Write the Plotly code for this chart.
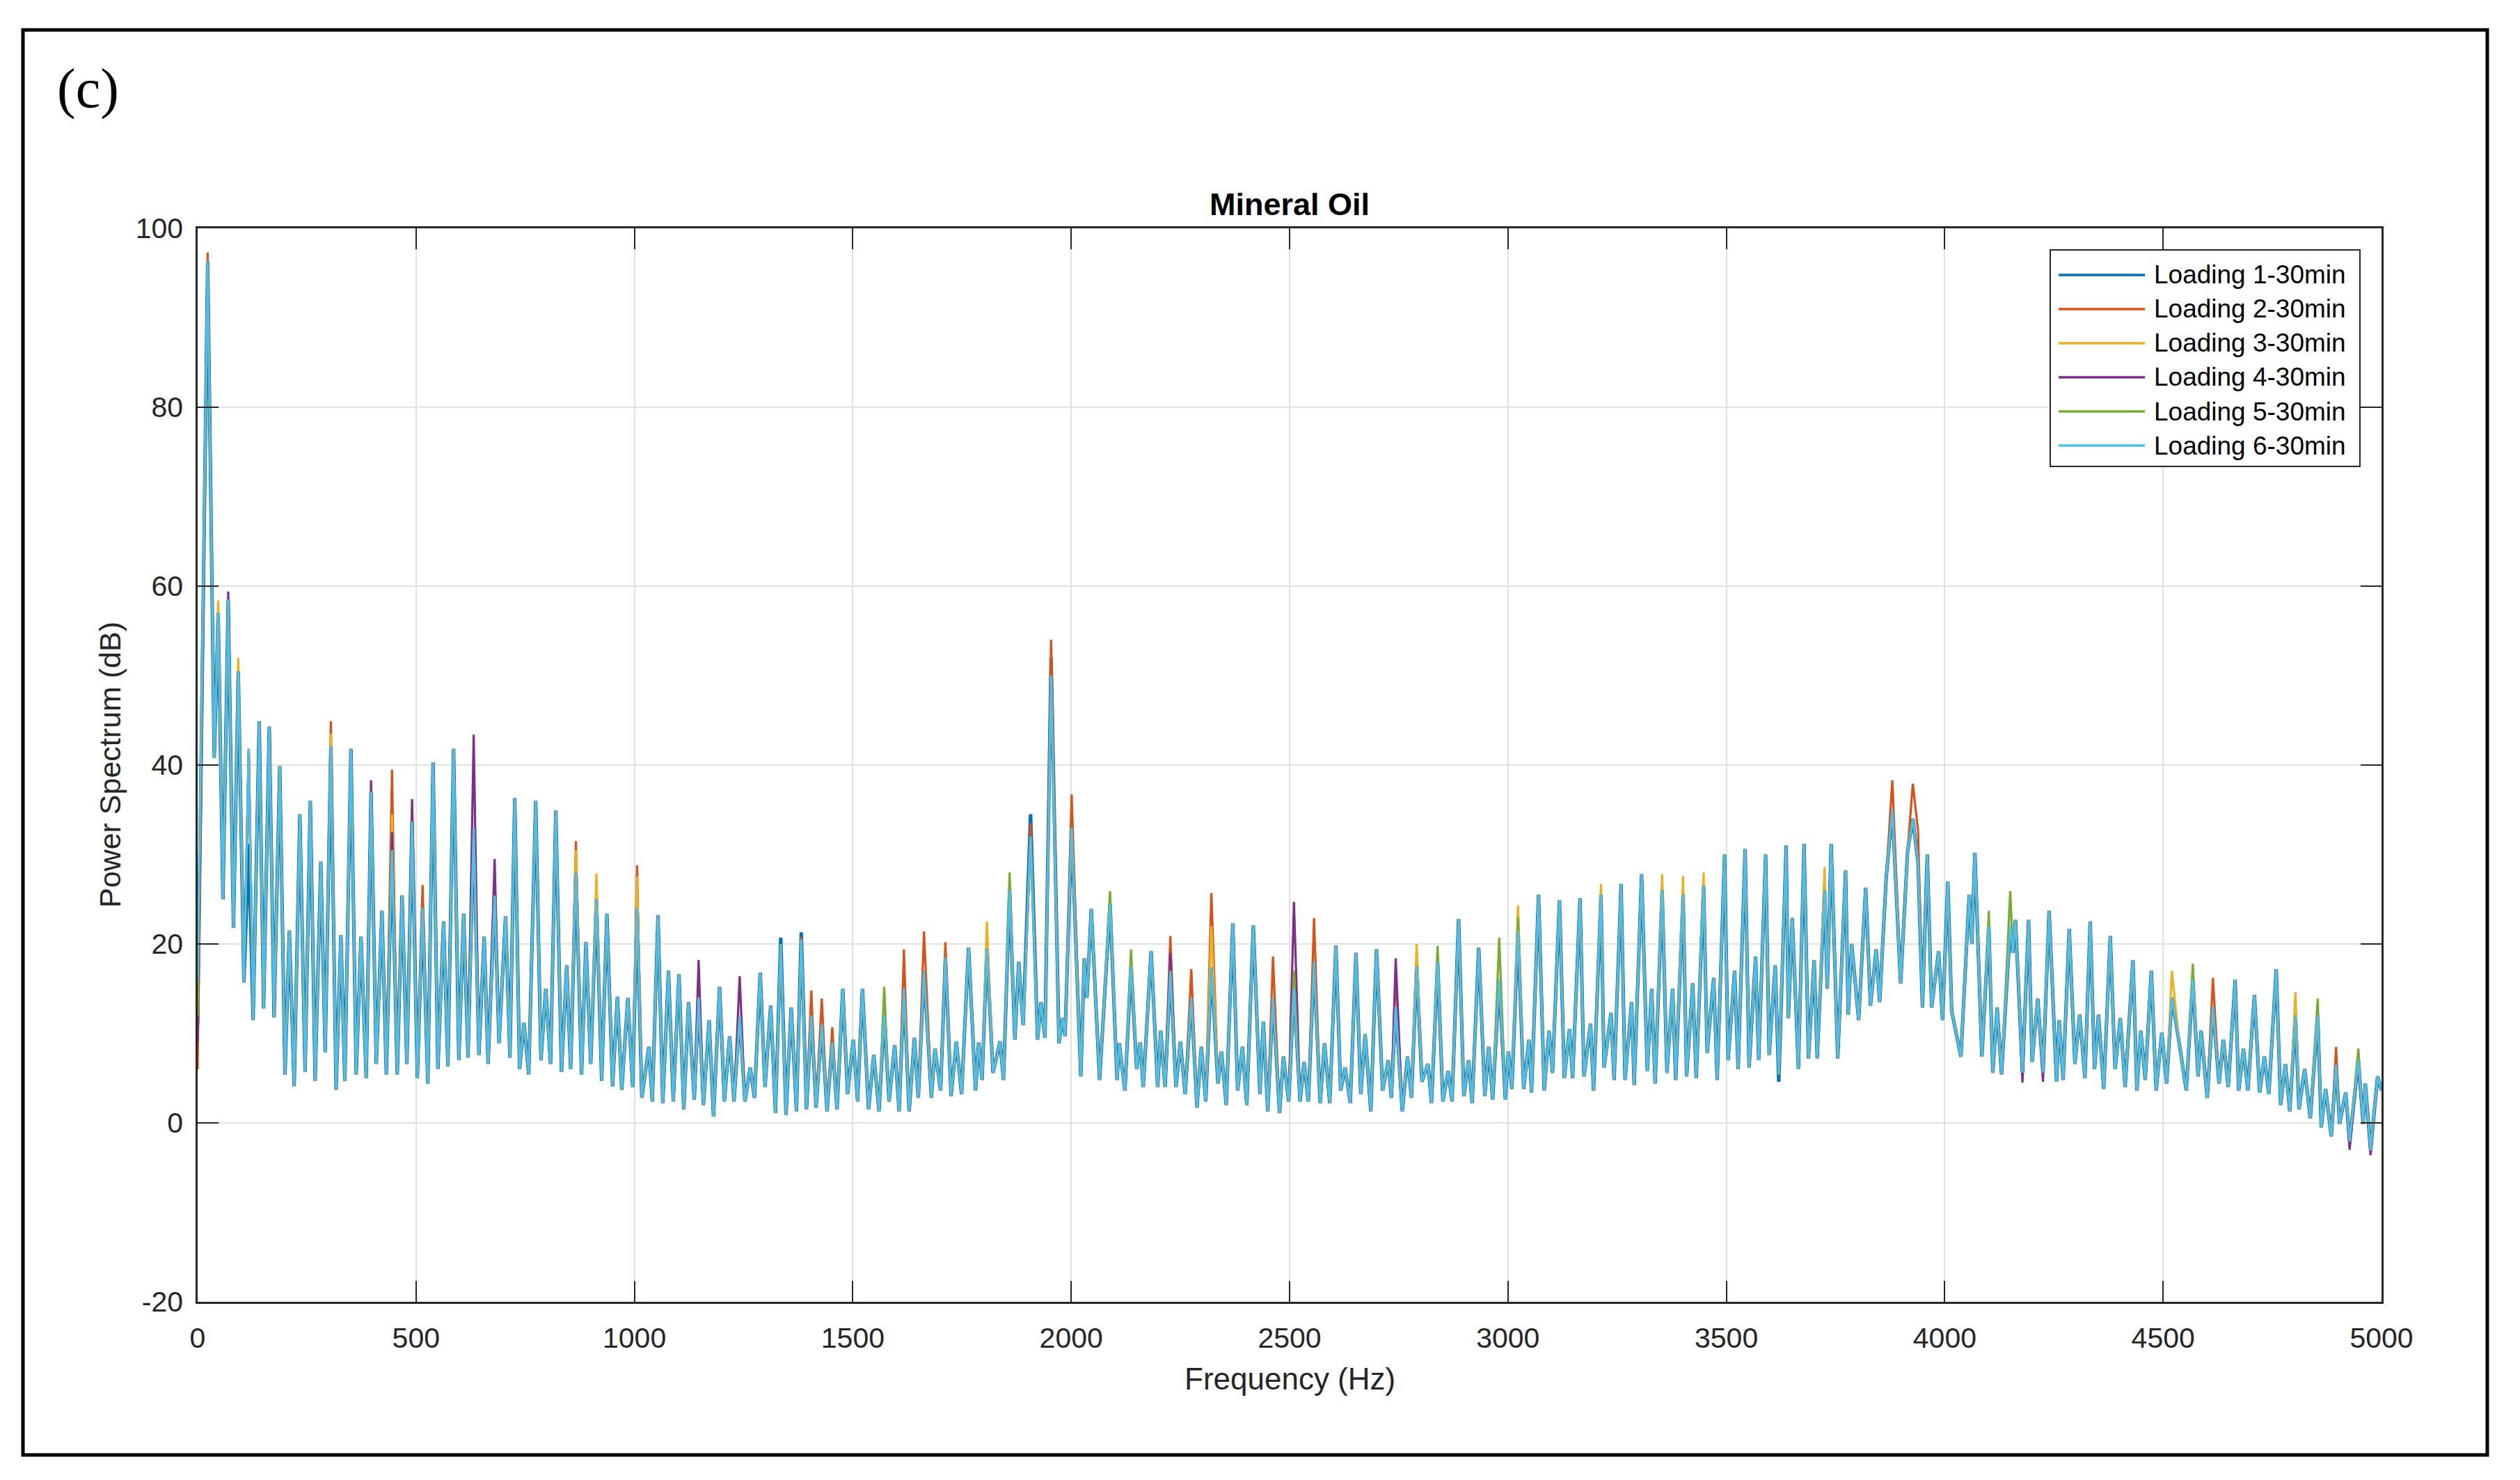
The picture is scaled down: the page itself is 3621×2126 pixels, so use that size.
import plotly.graph_objects as go

# ---------------- data ----------------
FREQ_HZ = [
    0, 23, 38, 47, 58, 70, 82, 93, 106, 117, 127, 141, 151, 164, 175, 188, 200, 210, 221, 234,
    246, 258, 269, 282, 292, 305, 317, 328, 337, 351, 363, 374, 386, 397, 409, 422, 432, 445, 457, 468,
    479, 491, 503, 515, 527, 539, 550, 563, 573, 586, 598, 609, 619, 632, 644, 656, 665, 680, 690, 705,
    715, 726, 737, 747, 758, 774, 786, 797, 808, 820, 833, 845, 854, 866, 879, 889, 900, 913, 925, 937,
    950, 961, 971, 985, 996, 1006, 1017, 1033, 1041, 1054, 1065, 1078, 1089, 1102, 1113, 1124, 1137, 1147, 1158, 1171,
    1181, 1195, 1206, 1218, 1228, 1241, 1253, 1265, 1275, 1288, 1299, 1312, 1323, 1335, 1347, 1359, 1371, 1382, 1394, 1405,
    1416, 1429, 1441, 1453, 1464, 1477, 1488, 1501, 1511, 1522, 1536, 1548, 1560, 1572, 1583, 1596, 1606, 1617, 1629, 1641,
    1650, 1663, 1680, 1688, 1701, 1712, 1725, 1737, 1749, 1765, 1781, 1788, 1796, 1807, 1821, 1837, 1845, 1859, 1871, 1880,
    1890, 1907, 1923, 1931, 1940, 1954, 1972, 1980, 1986, 2001, 2022, 2030, 2036, 2046, 2065, 2089, 2105, 2110, 2123, 2137,
    2150, 2158, 2165, 2183, 2198, 2205, 2215, 2227, 2240, 2250, 2261, 2275, 2288, 2298, 2308, 2321, 2336, 2344, 2355, 2370,
    2381, 2392, 2402, 2417, 2432, 2440, 2450, 2462, 2477, 2486, 2498, 2510, 2524, 2533, 2543, 2556, 2570, 2580, 2592, 2606,
    2617, 2627, 2639, 2652, 2663, 2673, 2686, 2699, 2713, 2726, 2733, 2743, 2758, 2770, 2779, 2791, 2803, 2817, 2825, 2839,
    2851, 2863, 2872, 2887, 2899, 2910, 2918, 2933, 2947, 2956, 2965, 2980, 2994, 3001, 3009, 3023, 3036, 3048, 3054, 3070,
    3083, 3094, 3102, 3118, 3129, 3141, 3148, 3165, 3174, 3189, 3196, 3213, 3220, 3236, 3243, 3259, 3268, 3283, 3289, 3306,
    3319, 3329, 3337, 3353, 3364, 3377, 3384, 3401, 3409, 3423, 3431, 3448, 3456, 3471, 3479, 3496, 3504, 3519, 3527, 3543,
    3552, 3567, 3574, 3590, 3598, 3612, 3620, 3637, 3642, 3651, 3665, 3678, 3688, 3701, 3708, 3725, 3731, 3740, 3755, 3773,
    3779, 3787, 3803, 3819, 3830, 3843, 3851, 3866, 3880, 3899, 3915, 3927, 3939, 3949, 3960, 3970, 3986, 3995, 4007, 4016,
    4037, 4056, 4062, 4069, 4085, 4101, 4110, 4120, 4130, 4150, 4156, 4162, 4178, 4192, 4200, 4213, 4225, 4239, 4256, 4262,
    4271, 4285, 4298, 4309, 4321, 4333, 4343, 4352, 4364, 4379, 4390, 4402, 4413, 4431, 4440, 4449, 4459, 4473, 4484, 4497,
    4508, 4520, 4537, 4553, 4568, 4580, 4587, 4601, 4614, 4628, 4638, 4649, 4665, 4673, 4684, 4694, 4709, 4721, 4732, 4742,
    4759, 4769, 4780, 4790, 4803, 4811, 4824, 4837, 4854, 4862, 4872, 4885, 4896, 4904, 4918, 4927, 4947, 4958, 4963, 4975,
    4991, 5000,
]

# common spectrum shared by the six loadings (dB)
BASE_DB = [
    16, 96.3, 40.8, 57, 25, 58.5, 21.8, 50.5, 15.7, 41.8, 11.5, 44.9, 12.8, 44.3, 11.8, 39.9, 5.4, 21.5, 4.1, 34.5,
    5.7, 36, 4.7, 29.2, 7.9, 42.1, 3.7, 21, 4.7, 41.8, 5.4, 20.8, 5, 37, 6.6, 23.7, 5.4, 30.5, 5.4, 25.4,
    6.6, 33.7, 5, 24, 4.4, 40.3, 6, 22.5, 6.3, 41.8, 7, 23.4, 7.3, 33, 7.6, 20.8, 6.6, 25.4, 8.9, 23.1,
    7.3, 36.3, 6, 11.2, 5.4, 36, 7, 15, 6.6, 34.9, 5.7, 17.6, 6, 28, 5.4, 20.2, 6.6, 25, 4.7, 23.4,
    4.1, 14.1, 3.7, 14, 4, 24, 2.8, 8.5, 2.4, 23.2, 2.2, 17, 2.4, 16.6, 1.5, 13.5, 2.6, 14, 2, 11.5,
    0.7, 15.2, 2.4, 9.7, 2.4, 12, 2.4, 6.2, 2.8, 16.8, 4, 13.1, 1.1, 20, 0.9, 12.9, 1.3, 20.5, 1.5, 12,
    1.7, 11, 1.3, 9, 1.5, 15, 3.2, 9.3, 2.4, 15, 1.5, 7.6, 1.3, 12, 2.4, 8.7, 1.3, 15, 1.3, 9.5,
    2.8, 17, 2.8, 8.3, 3.6, 18.5, 3, 9.1, 3.2, 19.6, 3.6, 9, 4.8, 19.5, 5.6, 9.1, 4.8, 26, 9.3, 18,
    10.9, 32, 9.3, 13.5, 9.5, 50, 8.9, 11.7, 9.7, 33, 5.2, 18.4, 14, 23.9, 4.8, 24.5, 4.8, 8.9, 3.6, 17.5,
    6, 9, 4, 19.2, 4, 10.3, 4, 17, 4, 9.1, 3.2, 14, 1.7, 8.5, 2.4, 17.4, 4.4, 8, 2, 22.3,
    3.6, 8.5, 2, 22.1, 3.2, 11.3, 1.3, 14, 1.1, 7.4, 2.4, 15, 2.4, 6.8, 2.4, 18, 2.2, 8.9, 2.2, 19.8,
    3.6, 6.2, 2.2, 19, 3.2, 9.9, 1.3, 19.4, 3.6, 7, 2.8, 13, 1.3, 7.4, 2.8, 17.5, 4.6, 6.6, 2.2, 18,
    2.4, 5.8, 2.4, 22.8, 3, 7, 2.2, 19.6, 3, 8.5, 2.6, 16, 2.6, 8, 3.8, 21.5, 3.8, 9.3, 3.4, 25.5,
    3.6, 10.3, 5.6, 24.9, 5, 10.5, 5, 25.1, 5.2, 11.1, 3.6, 25.5, 6.2, 12.3, 4.8, 26.7, 4.8, 13.5, 4.2, 27.8,
    5.8, 15, 4.4, 26, 5.6, 15, 4.8, 25.5, 5.2, 15.6, 5, 26.5, 7.8, 16.2, 4.8, 30, 7, 17, 6, 30.6,
    6.2, 18.6, 7, 30, 7.6, 17.6, 5.4, 31, 11.7, 22.9, 6, 31.2, 7.2, 18.2, 7.2, 26, 15, 31.2, 7.2, 28.2,
    12.1, 20, 11.5, 26.3, 13.1, 19.4, 13.5, 27.4, 35, 15.6, 30.4, 34, 29, 12.9, 30, 12.9, 19.2, 11.5, 27, 12.5,
    7.4, 25.5, 20, 30.2, 7.4, 22, 5.6, 12.9, 5.4, 22, 19, 22.7, 5.6, 22.7, 6.8, 13.9, 5.6, 23.7, 4.6, 11.5,
    4.8, 21.7, 6.6, 12.1, 5, 22.5, 6, 12.1, 3.8, 20.9, 6, 11.7, 4, 18.2, 3.6, 10.3, 4.8, 17, 3.6, 10.1,
    4.4, 14, 8.9, 3.6, 16, 5.2, 10.3, 2.8, 13, 4.4, 9.3, 4, 16, 3.6, 8.3, 3.6, 14.3, 3.4, 7.4, 3.2,
    17.2, 2, 6.6, 1.3, 12, 1.5, 6, 0.5, 12, -0.5, 3.8, -1.5, 6.5, -0.1, 3.4, -2.1, 7, -0.1, 4.4, -3.1,
    5.2, 3.6,
]

# where a loading departs from the common spectrum: {frequency (Hz): dB}
LOADING_1_DB = {0: 11, 117: 31.2, 1335: 20.7, 1382: 21.3, 1907: 34.5, 1954: 52, 3620: 4.6}
LOADING_2_DB = {0: 6, 23: 97.3, 305: 44.9, 445: 39.5, 515: 26.6, 866: 31.5, 1006: 28.8, 1382: 20.8,
                1405: 14.8, 1429: 13.9, 1453: 10.7, 1617: 19.4, 1663: 21.4, 1712: 20.2, 1907: 33.5,
                1954: 54, 2001: 36.7, 2227: 20.9, 2275: 17.2, 2321: 25.7, 2462: 18.6, 2556: 22.9,
                2743: 17, 3880: 38.3, 3927: 37.9, 3939: 32.6, 4614: 16.2, 4896: 8.5}
LOADING_3_DB = {0: 10, 47: 58.4, 93: 52, 305: 43.5, 445: 34.5, 866: 30.5, 913: 27.9, 1006: 27.5,
                1807: 22.5, 2321: 22, 2791: 20, 3023: 24.3, 3213: 26.7, 3353: 27.8, 3401: 27.6,
                3448: 28, 3725: 28.6, 4520: 17, 4803: 14.6}
LOADING_4_DB = {0: 9, 70: 59.4, 397: 38.3, 445: 32.5, 491: 36.2, 632: 43.4, 680: 29.5, 1147: 18.2,
                1241: 16.4, 2227: 19, 2510: 24.7, 2743: 18.4, 4178: 4.5, 4225: 4.6, 4927: -3, 4975: -3.6}
LOADING_5_DB = {0: 12, 1572: 15.2, 1859: 28, 2089: 25.9, 2137: 19.4, 2510: 17, 2839: 19.8, 2980: 20.7,
                3023: 23, 3637: 30, 4101: 23.7, 4150: 25.9, 4568: 17.8, 4854: 13.9, 4947: 8.3}
LOADING_6_DB = {}

SERIES_NAMES = ["Loading 1-30min", "Loading 2-30min", "Loading 3-30min",
                "Loading 4-30min", "Loading 5-30min", "Loading 6-30min"]
SERIES_DEVIATIONS = [LOADING_1_DB, LOADING_2_DB, LOADING_3_DB, LOADING_4_DB, LOADING_5_DB, LOADING_6_DB]

X_TICKS = [0, 500, 1000, 1500, 2000, 2500, 3000, 3500, 4000, 4500, 5000]
Y_TICKS = [-20, 0, 20, 40, 60, 80, 100]
Y_TICK_TEXT = ["-20", "0", "20", "40", "60", "80", "100"]

# ---------------- styling ----------------
COLORS = ["#0072BD", "#D95319", "#EDB120", "#7E2F8E", "#77AC30", "#4DBEEE"]
LINE_WIDTHS = [5.0, 3.2, 3.2, 3.2, 3.2, 3.0]
W, H = 3621, 2126
L, R, T, B = 284, 3422, 328, 1870          # plot area in pixels
AX = "#262626"
SANS = "Liberation Sans, Arial, Helvetica, sans-serif"


def px_x(X):
    return (X - L) / (R - L)


def px_y(Y):
    return (B - Y) / (B - T)


fig = go.Figure()
for name, dev, col, lw in zip(SERIES_NAMES, SERIES_DEVIATIONS, COLORS, LINE_WIDTHS):
    vals = [dev.get(f, b) for f, b in zip(FREQ_HZ, BASE_DB)]
    fig.add_trace(go.Scatter(x=FREQ_HZ, y=vals, mode="lines", name=name,
                             line=dict(color=col, width=lw), showlegend=False))

axis_common = dict(showgrid=True, gridcolor="#e1e1e1", gridwidth=2,
                   ticks="inside", ticklen=30, tickwidth=2, tickcolor=AX,
                   showline=True, linecolor=AX, linewidth=2.5, mirror="ticks",
                   zeroline=False, tickfont=dict(family=SANS, size=41, color=AX))

fig.update_xaxes(range=[0, 5000], tickvals=X_TICKS, ticklabelstandoff=14, **axis_common)
fig.update_yaxes(range=[-20, 100], tickvals=Y_TICKS, ticktext=Y_TICK_TEXT,
                 ticklabelstandoff=10, **axis_common)

shapes = []
annotations = []

# outer frame
shapes.append(dict(type="rect", xref="paper", yref="paper",
                   x0=px_x(33), x1=px_x(3574), y0=px_y(2090), y1=px_y(43),
                   line=dict(color="black", width=5), fillcolor="rgba(0,0,0,0)", layer="above"))

# legend box
shapes.append(dict(type="rect", xref="paper", yref="paper",
                   x0=px_x(2946), x1=px_x(3391), y0=px_y(670), y1=px_y(359),
                   line=dict(color=AX, width=2), fillcolor="white", layer="above"))
row_y = [395, 444, 493, 542, 591, 640]
for name, col, ry in zip(SERIES_NAMES, COLORS, row_y):
    shapes.append(dict(type="line", xref="paper", yref="paper",
                       x0=px_x(2958), x1=px_x(3082), y0=px_y(ry), y1=px_y(ry),
                       line=dict(color=col, width=3.5), layer="above"))
    annotations.append(dict(text=name, xref="paper", yref="paper", x=px_x(3093), y=px_y(ry),
                            xanchor="left", yanchor="middle", showarrow=False,
                            font=dict(family=SANS, size=37, color="black")))

# panel label, title, axis titles
annotations.append(dict(text="(c)", xref="paper", yref="paper", x=px_x(126), y=px_y(127),
                        xanchor="center", yanchor="middle", showarrow=False,
                        font=dict(family="Liberation Serif, Times New Roman, serif", size=80, color="black")))
annotations.append(dict(text="<b>Mineral Oil</b>", xref="paper", yref="paper", x=0.5, y=px_y(293),
                        xanchor="center", yanchor="middle", showarrow=False,
                        font=dict(family=SANS, size=45, color="black")))
annotations.append(dict(text="Frequency (Hz)", xref="paper", yref="paper", x=0.5, y=px_y(1980),
                        xanchor="center", yanchor="middle", showarrow=False,
                        font=dict(family=SANS, size=44, color=AX)))
annotations.append(dict(text="Power Spectrum (dB)", xref="paper", yref="paper", x=px_x(158), y=0.5,
                        xanchor="center", yanchor="middle", showarrow=False, textangle=-90,
                        font=dict(family=SANS, size=43, color=AX)))

fig.update_layout(width=W, height=H, autosize=False,
                  margin=dict(l=L, r=W - R, t=T, b=H - B, pad=0),
                  paper_bgcolor="white", plot_bgcolor="white",
                  showlegend=False, shapes=shapes, annotations=annotations)

fig.write_html("out.html", config={"displayModeBar": False},
               post_script="document.body.style.margin='0';document.body.style.padding='0';")
